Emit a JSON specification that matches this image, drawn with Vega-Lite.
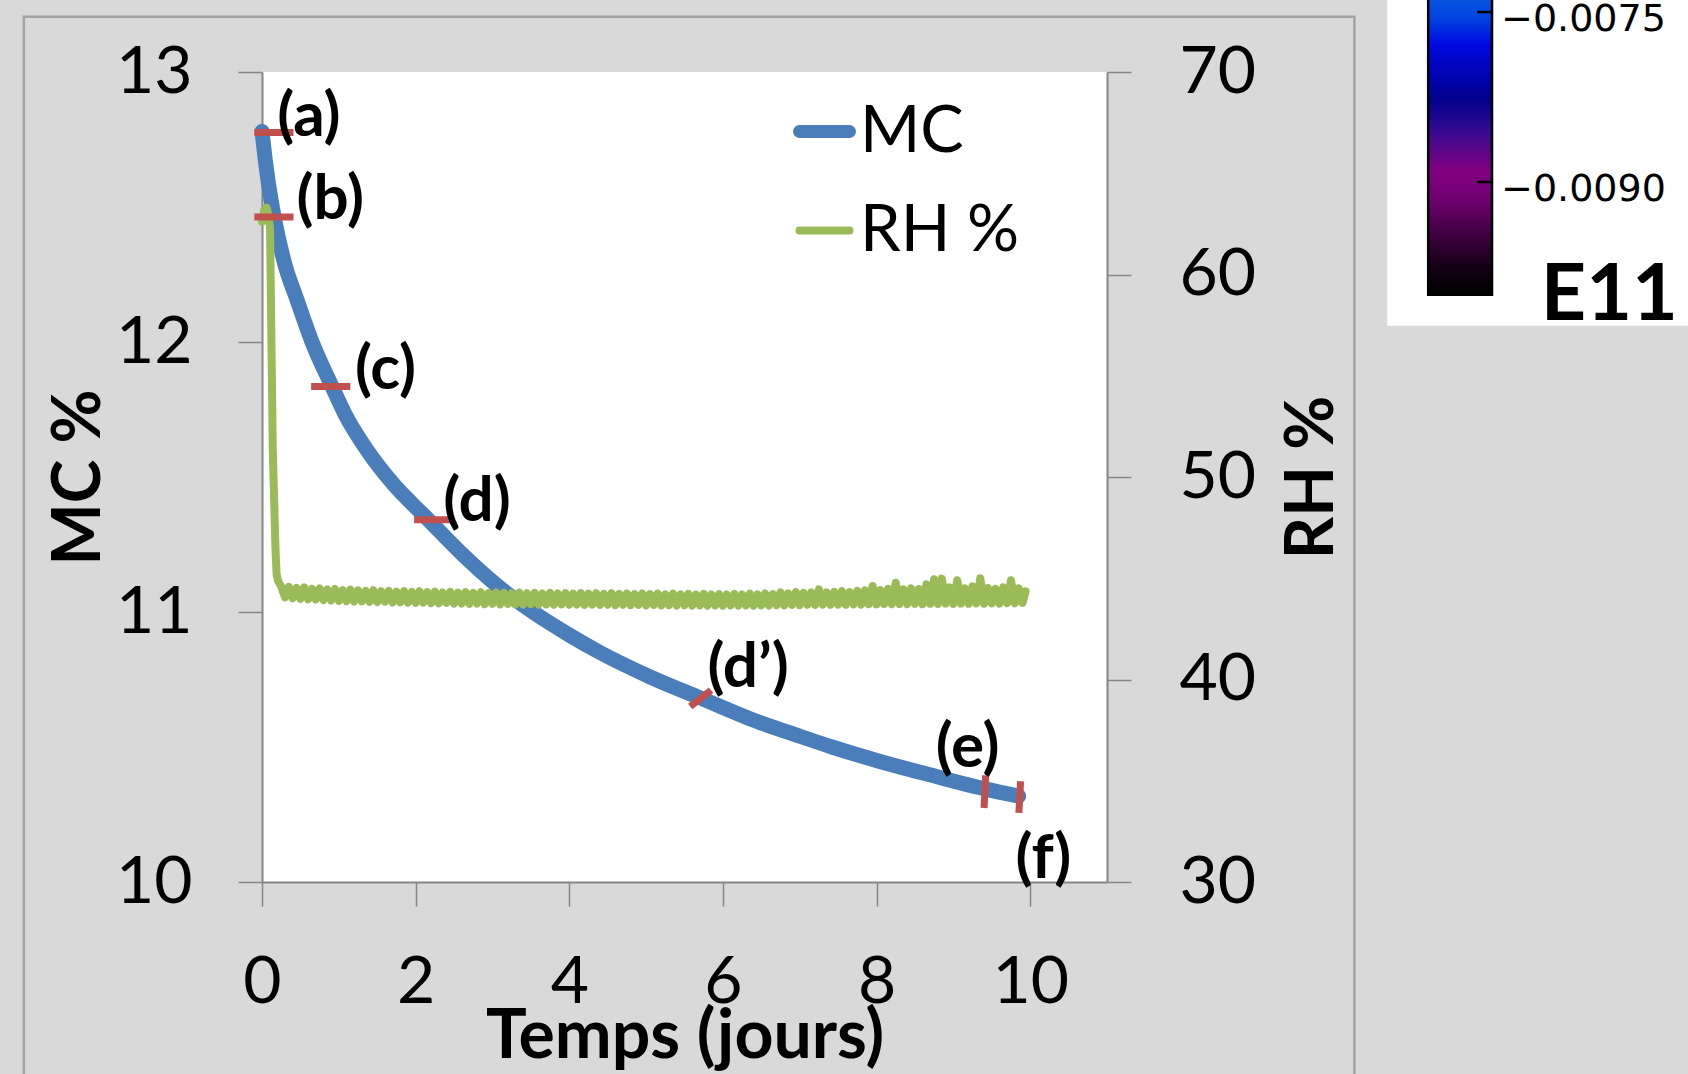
{
  "$schema": "https://vega.github.io/schema/vega-lite/v6.json",
  "width": 845,
  "height": 810,
  "autosize": {"type": "none"},
  "padding": {"left": 262, "top": 72, "right": 581, "bottom": 192},
  "background": "#d9d9d9",
  "config": {"view": {"fill": "white", "stroke": null}},
  "datasets": {
    "mc": [
      {"t": 0.0, "mc": 12.78}, {"t": 0.04, "mc": 12.68}, {"t": 0.08, "mc": 12.595}, {"t": 0.16, "mc": 12.46},
      {"t": 0.3, "mc": 12.285}, {"t": 0.455, "mc": 12.157}, {"t": 0.65, "mc": 12.001}, {"t": 0.91, "mc": 11.836},
      {"t": 1.1, "mc": 11.722}, {"t": 1.364, "mc": 11.601}, {"t": 1.7, "mc": 11.477}, {"t": 2.165, "mc": 11.342},
      {"t": 2.6, "mc": 11.216}, {"t": 3.074, "mc": 11.095}, {"t": 3.5, "mc": 11.005}, {"t": 4.0, "mc": 10.915},
      {"t": 4.4, "mc": 10.85}, {"t": 5.05, "mc": 10.76}, {"t": 5.72, "mc": 10.68}, {"t": 6.35, "mc": 10.605},
      {"t": 7.0, "mc": 10.54}, {"t": 7.42, "mc": 10.5}, {"t": 8.0, "mc": 10.45}, {"t": 8.72, "mc": 10.395},
      {"t": 9.41, "mc": 10.345}, {"t": 9.85, "mc": 10.318}
    ],
    "rh": [
      {"t": 0.0, "rh": 62.6}, {"t": 0.03, "rh": 63.2}, {"t": 0.06, "rh": 63.3}, {"t": 0.09, "rh": 62.8},
      {"t": 0.105, "rh": 62.2}, {"t": 0.14, "rh": 51.4}, {"t": 0.175, "rh": 46.5}, {"t": 0.19, "rh": 45.2},
      {"t": 0.21, "rh": 44.85}, {"t": 0.25, "rh": 44.6},
      {"t": 0.3, "rh": 44.05}, {"t": 0.35, "rh": 44.58}, {"t": 0.4, "rh": 44.02}, {"t": 0.45, "rh": 44.52},
      {"t": 0.5, "rh": 43.98}, {"t": 0.55, "rh": 44.55}, {"t": 0.6, "rh": 43.96}, {"t": 0.65, "rh": 44.48},
      {"t": 0.7, "rh": 43.95}, {"t": 0.75, "rh": 44.5}, {"t": 0.8, "rh": 43.92}, {"t": 0.85, "rh": 44.45},
      {"t": 0.9, "rh": 43.9}, {"t": 0.95, "rh": 44.47}, {"t": 1.0, "rh": 43.88}, {"t": 1.05, "rh": 44.42},
      {"t": 1.1, "rh": 43.87}, {"t": 1.15, "rh": 44.44}, {"t": 1.2, "rh": 43.85}, {"t": 1.25, "rh": 44.4},
      {"t": 1.3, "rh": 43.86}, {"t": 1.35, "rh": 44.38}, {"t": 1.4, "rh": 43.83}, {"t": 1.45, "rh": 44.41},
      {"t": 1.5, "rh": 43.82}, {"t": 1.55, "rh": 44.36}, {"t": 1.6, "rh": 43.84}, {"t": 1.65, "rh": 44.38},
      {"t": 1.7, "rh": 43.8}, {"t": 1.75, "rh": 44.34}, {"t": 1.8, "rh": 43.81}, {"t": 1.85, "rh": 44.37},
      {"t": 1.9, "rh": 43.79}, {"t": 1.95, "rh": 44.33}, {"t": 2.0, "rh": 43.78}, {"t": 2.05, "rh": 44.36},
      {"t": 2.1, "rh": 43.79}, {"t": 2.15, "rh": 44.32}, {"t": 2.2, "rh": 43.77}, {"t": 2.25, "rh": 44.34},
      {"t": 2.3, "rh": 43.76}, {"t": 2.35, "rh": 44.3}, {"t": 2.4, "rh": 43.78}, {"t": 2.45, "rh": 44.33},
      {"t": 2.5, "rh": 43.74}, {"t": 2.55, "rh": 44.29}, {"t": 2.6, "rh": 43.75}, {"t": 2.65, "rh": 44.32},
      {"t": 2.7, "rh": 43.73}, {"t": 2.75, "rh": 44.28}, {"t": 2.8, "rh": 43.75}, {"t": 2.85, "rh": 44.31},
      {"t": 2.9, "rh": 43.72}, {"t": 2.95, "rh": 44.27}, {"t": 3.0, "rh": 43.74}, {"t": 3.05, "rh": 44.3},
      {"t": 3.1, "rh": 43.71}, {"t": 3.15, "rh": 44.28}, {"t": 3.2, "rh": 43.73}, {"t": 3.25, "rh": 44.26},
      {"t": 3.3, "rh": 43.71}, {"t": 3.35, "rh": 44.29}, {"t": 3.4, "rh": 43.7}, {"t": 3.45, "rh": 44.26},
      {"t": 3.5, "rh": 43.72}, {"t": 3.55, "rh": 44.28}, {"t": 3.6, "rh": 43.7}, {"t": 3.65, "rh": 44.25},
      {"t": 3.7, "rh": 43.71}, {"t": 3.75, "rh": 44.28}, {"t": 3.8, "rh": 43.69}, {"t": 3.85, "rh": 44.25},
      {"t": 3.9, "rh": 43.71}, {"t": 3.95, "rh": 44.27}, {"t": 4.0, "rh": 43.69}, {"t": 4.05, "rh": 44.24},
      {"t": 4.1, "rh": 43.7}, {"t": 4.15, "rh": 44.27}, {"t": 4.2, "rh": 43.68}, {"t": 4.25, "rh": 44.24},
      {"t": 4.3, "rh": 43.7}, {"t": 4.35, "rh": 44.26}, {"t": 4.4, "rh": 43.68}, {"t": 4.45, "rh": 44.23},
      {"t": 4.5, "rh": 43.69}, {"t": 4.55, "rh": 44.26}, {"t": 4.6, "rh": 43.67}, {"t": 4.65, "rh": 44.23},
      {"t": 4.7, "rh": 43.69}, {"t": 4.75, "rh": 44.25}, {"t": 4.8, "rh": 43.67}, {"t": 4.85, "rh": 44.22},
      {"t": 4.9, "rh": 43.68}, {"t": 4.95, "rh": 44.25}, {"t": 5.0, "rh": 43.66}, {"t": 5.05, "rh": 44.22},
      {"t": 5.1, "rh": 43.68}, {"t": 5.15, "rh": 44.24}, {"t": 5.2, "rh": 43.66}, {"t": 5.25, "rh": 44.21},
      {"t": 5.3, "rh": 43.67}, {"t": 5.35, "rh": 44.24}, {"t": 5.4, "rh": 43.65}, {"t": 5.45, "rh": 44.21},
      {"t": 5.5, "rh": 43.67}, {"t": 5.55, "rh": 44.23}, {"t": 5.6, "rh": 43.65}, {"t": 5.65, "rh": 44.2},
      {"t": 5.7, "rh": 43.66}, {"t": 5.75, "rh": 44.23}, {"t": 5.8, "rh": 43.64}, {"t": 5.85, "rh": 44.2},
      {"t": 5.9, "rh": 43.66}, {"t": 5.95, "rh": 44.22}, {"t": 6.0, "rh": 43.64}, {"t": 6.05, "rh": 44.2},
      {"t": 6.1, "rh": 43.66}, {"t": 6.15, "rh": 44.23}, {"t": 6.2, "rh": 43.65}, {"t": 6.25, "rh": 44.2},
      {"t": 6.3, "rh": 43.66}, {"t": 6.35, "rh": 44.24}, {"t": 6.4, "rh": 43.64}, {"t": 6.45, "rh": 44.21},
      {"t": 6.5, "rh": 43.66}, {"t": 6.55, "rh": 44.25}, {"t": 6.6, "rh": 43.65}, {"t": 6.65, "rh": 44.22},
      {"t": 6.7, "rh": 43.67}, {"t": 6.75, "rh": 44.3}, {"t": 6.8, "rh": 43.66}, {"t": 6.85, "rh": 44.26},
      {"t": 6.9, "rh": 43.68}, {"t": 6.95, "rh": 44.32}, {"t": 7.0, "rh": 43.67}, {"t": 7.05, "rh": 44.28},
      {"t": 7.1, "rh": 43.69}, {"t": 7.15, "rh": 44.3}, {"t": 7.2, "rh": 43.68}, {"t": 7.25, "rh": 44.45},
      {"t": 7.3, "rh": 43.7}, {"t": 7.35, "rh": 44.3}, {"t": 7.4, "rh": 43.69}, {"t": 7.45, "rh": 44.33},
      {"t": 7.5, "rh": 43.7}, {"t": 7.55, "rh": 44.36}, {"t": 7.6, "rh": 43.69}, {"t": 7.65, "rh": 44.32},
      {"t": 7.7, "rh": 43.71}, {"t": 7.75, "rh": 44.38}, {"t": 7.8, "rh": 43.7}, {"t": 7.85, "rh": 44.4},
      {"t": 7.9, "rh": 43.72}, {"t": 7.95, "rh": 44.62}, {"t": 8.0, "rh": 43.71}, {"t": 8.05, "rh": 44.42},
      {"t": 8.1, "rh": 43.73}, {"t": 8.15, "rh": 44.48}, {"t": 8.2, "rh": 43.72}, {"t": 8.25, "rh": 44.78},
      {"t": 8.3, "rh": 43.73}, {"t": 8.35, "rh": 44.45}, {"t": 8.4, "rh": 43.72}, {"t": 8.45, "rh": 44.5},
      {"t": 8.5, "rh": 43.74}, {"t": 8.55, "rh": 44.47}, {"t": 8.6, "rh": 43.72}, {"t": 8.65, "rh": 44.7},
      {"t": 8.7, "rh": 43.74}, {"t": 8.75, "rh": 44.95}, {"t": 8.8, "rh": 43.73}, {"t": 8.85, "rh": 44.98},
      {"t": 8.9, "rh": 43.75}, {"t": 8.95, "rh": 44.55}, {"t": 9.0, "rh": 43.73}, {"t": 9.05, "rh": 44.9},
      {"t": 9.1, "rh": 43.75}, {"t": 9.15, "rh": 44.5}, {"t": 9.2, "rh": 43.74}, {"t": 9.25, "rh": 44.6},
      {"t": 9.3, "rh": 43.76}, {"t": 9.35, "rh": 45.0}, {"t": 9.4, "rh": 43.74}, {"t": 9.45, "rh": 44.52},
      {"t": 9.5, "rh": 43.76}, {"t": 9.55, "rh": 44.48}, {"t": 9.6, "rh": 43.75}, {"t": 9.65, "rh": 44.55},
      {"t": 9.7, "rh": 43.77}, {"t": 9.75, "rh": 44.9}, {"t": 9.8, "rh": 43.76}, {"t": 9.85, "rh": 44.5},
      {"t": 9.9, "rh": 43.78}, {"t": 9.94, "rh": 44.35}
    ],
    "ticks": [
      {"label": "(a)", "t1": -0.1, "t2": 0.41, "m1": 12.776, "m2": 12.776},
      {"label": "(b)", "t1": -0.1, "t2": 0.41, "m1": 12.463, "m2": 12.463},
      {"label": "(c)", "t1": 0.64, "t2": 1.15, "m1": 11.835, "m2": 11.835},
      {"label": "(d)", "t1": 1.98, "t2": 2.49, "m1": 11.342, "m2": 11.342},
      {"label": "(d’)", "t1": 5.574, "t2": 5.846, "m1": 10.65, "m2": 10.71},
      {"label": "(e)", "t1": 9.42, "t2": 9.4, "m1": 10.395, "m2": 10.274},
      {"label": "(f)", "t1": 9.875, "t2": 9.853, "m1": 10.373, "m2": 10.256}
    ],
    "labels": [
      {"label": "(a)", "t": 0.2, "mc": 12.834},
      {"label": "(b)", "t": 0.45, "mc": 12.527},
      {"label": "(c)", "t": 1.21, "mc": 11.897},
      {"label": "(d)", "t": 2.36, "mc": 11.409},
      {"label": "(d’)", "t": 5.8, "mc": 10.794},
      {"label": "(e)", "t": 8.77, "mc": 10.497},
      {"label": "(f)", "t": 9.81, "mc": 10.086}
    ],
    "cbticks": [
      {"e11": -0.0075, "text": "−0.0075"},
      {"e11": -0.009, "text": "−0.0090"}
    ]
  },
  "layer": [
    {
      "layer": [
        {
          "data": {"values": [{}]},
          "mark": {"type": "rect", "fillOpacity": 0, "stroke": "#a3a3a3", "strokeWidth": 2.5, "clip": false},
          "encoding": {
            "x": {"datum": -3.1, "type": "quantitative", "scale": {"domain": [0, 11], "nice": false, "zero": false}},
            "x2": {"datum": 14.22},
            "y": {"datum": 13.205, "type": "quantitative", "scale": {"domain": [10, 13], "nice": false, "zero": false}},
            "y2": {"datum": 9.0}
          }
        },
        {
          "data": {"name": "mc"},
          "mark": {"type": "line", "strokeWidth": 15, "strokeCap": "round", "strokeJoin": "round", "interpolate": "monotone", "clip": false},
          "encoding": {
            "x": {
              "field": "t", "type": "quantitative",
              "scale": {"domain": [0, 11], "nice": false, "zero": false},
              "axis": {
                "orient": "bottom", "values": [0, 2, 4, 6, 8, 10], "format": "d", "grid": false, "labelFlush": false,
                "domainColor": "#868686", "domainWidth": 2, "tickColor": "#868686", "tickWidth": 1.5, "tickSize": 24,
                "labelFont": "Lato", "labelFontSize": 66, "labelColor": "black", "labelPadding": 44,
                "title": "Temps (jours)", "titleFont": "Lato", "titleFontSize": 68, "titleFontWeight": "bold",
                "titleColor": "black", "titlePadding": -12
              }
            },
            "y": {
              "field": "mc", "type": "quantitative",
              "scale": {"domain": [10, 13], "nice": false, "zero": false},
              "axis": {
                "orient": "left", "values": [10, 11, 12, 13], "format": "d", "grid": false, "labelFlush": false,
                "domainColor": "#868686", "domainWidth": 2, "tickColor": "#868686", "tickWidth": 1.5, "tickSize": 24,
                "labelFont": "Lato", "labelFontSize": 66, "labelColor": "black", "labelPadding": 46,
                "title": "MC %", "titleFont": "Lato", "titleFontSize": 66, "titleFontWeight": "bold",
                "titleColor": "black", "titlePadding": 2
              }
            },
            "color": {
              "datum": "MC",
              "scale": {"domain": ["MC", "RH %"], "range": ["#4a7ebb", "#9bbb59"]},
              "legend": {
                "orient": "none", "legendX": 530, "legendY": 27, "title": null, "padding": 0,
                "symbolType": "stroke", "symbolSize": 2500, "symbolStrokeWidth": 8,
                "labelFont": "Lato", "labelFontSize": 65, "labelColor": "black", "labelOffset": 3,
                "rowPadding": 33, "labelLimit": 400,
                "encode": {"symbols": {"update": {"strokeWidth": {"signal": "datum.value === 'MC' ? 13 : 8"}, "strokeCap": {"value": "round"}}}}
              }
            }
          }
        }
      ]
    },
    {
      "layer": [
        {
          "data": {"name": "rh"},
          "mark": {"type": "line", "strokeWidth": 8, "strokeCap": "round", "strokeJoin": "round", "clip": false},
          "encoding": {
            "x": {"field": "t", "type": "quantitative", "scale": {"domain": [0, 11], "nice": false, "zero": false}},
            "y": {
              "field": "rh", "type": "quantitative",
              "scale": {"domain": [30, 70], "nice": false, "zero": false},
              "axis": {
                "orient": "right", "values": [30, 40, 50, 60, 70], "format": "d", "grid": false, "labelFlush": false,
                "domainColor": "#868686", "domainWidth": 2, "tickColor": "#868686", "tickWidth": 1.5, "tickSize": 24,
                "labelFont": "Lato", "labelFontSize": 66, "labelColor": "black", "labelPadding": 48,
                "title": "RH %", "titleFont": "Lato", "titleFontSize": 66, "titleFontWeight": "bold",
                "titleColor": "black", "titleAngle": 270, "titlePadding": 91
              }
            },
            "color": {
              "datum": "RH %",
              "scale": {"domain": ["MC", "RH %"], "range": ["#4a7ebb", "#9bbb59"]},
              "legend": {
                "orient": "none", "legendX": 530, "legendY": 27, "title": null, "padding": 0,
                "symbolType": "stroke", "symbolSize": 2500, "symbolStrokeWidth": 8,
                "labelFont": "Lato", "labelFontSize": 65, "labelColor": "black", "labelOffset": 3,
                "rowPadding": 33, "labelLimit": 400,
                "encode": {"symbols": {"update": {"strokeWidth": {"signal": "datum.value === 'MC' ? 13 : 8"}, "strokeCap": {"value": "round"}}}}
              }
            }
          }
        }
      ]
    },
    {
      "layer": [
        {
          "data": {"name": "ticks"},
          "mark": {"type": "rule", "color": "#c0504d", "strokeWidth": 7, "clip": false},
          "encoding": {
            "x": {"field": "t1", "type": "quantitative", "scale": {"domain": [0, 11], "nice": false, "zero": false}},
            "x2": {"field": "t2"},
            "y": {"field": "m1", "type": "quantitative", "scale": {"domain": [10, 13], "nice": false, "zero": false}, "axis": null},
            "y2": {"field": "m2"}
          }
        },
        {
          "data": {"name": "labels"},
          "mark": {"type": "text", "font": "Lato", "fontWeight": "bold", "fontSize": 62, "align": "left", "baseline": "middle", "color": "black", "clip": false},
          "encoding": {
            "x": {"field": "t", "type": "quantitative", "scale": {"domain": [0, 11], "nice": false, "zero": false}},
            "y": {"field": "mc", "type": "quantitative", "scale": {"domain": [10, 13], "nice": false, "zero": false}, "axis": null},
            "text": {"field": "label"}
          }
        }
      ]
    },
    {
      "layer": [
        {
          "data": {"values": [{}]},
          "mark": {"type": "rect", "fill": "white", "clip": false},
          "encoding": {
            "x": {"datum": 14.648, "type": "quantitative", "scale": {"domain": [0, 11], "nice": false, "zero": false}},
            "x2": {"datum": 18.8},
            "y": {"datum": -0.0068, "type": "quantitative", "scale": {"domain": [-0.0151765, -0.008029], "nice": false, "zero": false}, "axis": null},
            "y2": {"datum": -0.010268}
          }
        },
        {
          "data": {"values": [{}]},
          "mark": {
            "type": "rect", "stroke": "black", "strokeWidth": 2.5, "clip": false,
            "fill": {
              "gradient": "linear", "x1": 0, "y1": 0, "x2": 0, "y2": 1,
              "stops": [
                {"offset": 0, "color": "#0a5ae0"},
                {"offset": 0.082, "color": "#0040e0"},
                {"offset": 0.166, "color": "#0008e0"},
                {"offset": 0.349, "color": "#00008c"},
                {"offset": 0.459, "color": "#380a90"},
                {"offset": 0.583, "color": "#820082"},
                {"offset": 0.683, "color": "#700070"},
                {"offset": 0.793, "color": "#420042"},
                {"offset": 0.907, "color": "#150015"},
                {"offset": 1, "color": "#000000"}
              ]
            }
          },
          "encoding": {
            "x": {"datum": 15.181, "type": "quantitative", "scale": {"domain": [0, 11], "nice": false, "zero": false}},
            "x2": {"datum": 16.012},
            "y": {"datum": -0.00735, "type": "quantitative", "scale": {"domain": [-0.0151765, -0.008029], "nice": false, "zero": false}, "axis": null},
            "y2": {"datum": -0.0099944}
          }
        },
        {
          "data": {"name": "cbticks"},
          "mark": {"type": "rule", "color": "black", "strokeWidth": 2.5, "clip": false},
          "encoding": {
            "x": {"datum": 15.817, "type": "quantitative", "scale": {"domain": [0, 11], "nice": false, "zero": false}},
            "x2": {"datum": 16.012},
            "y": {"field": "e11", "type": "quantitative", "scale": {"domain": [-0.0151765, -0.008029], "nice": false, "zero": false}, "axis": null}
          }
        },
        {
          "data": {"name": "cbticks"},
          "mark": {"type": "text", "font": "DejaVu Sans", "fontSize": 38, "align": "left", "baseline": "middle", "dy": 8, "color": "black", "clip": false},
          "encoding": {
            "x": {"datum": 16.13, "type": "quantitative", "scale": {"domain": [0, 11], "nice": false, "zero": false}},
            "y": {"field": "e11", "type": "quantitative", "scale": {"domain": [-0.0151765, -0.008029], "nice": false, "zero": false}, "axis": null},
            "text": {"field": "text"}
          }
        },
        {
          "data": {"values": [{}]},
          "mark": {"type": "text", "text": "E11", "font": "Lato", "fontWeight": "bold", "fontSize": 79, "align": "center", "baseline": "middle", "color": "black", "clip": false},
          "encoding": {
            "x": {"datum": 17.539, "type": "quantitative", "scale": {"domain": [0, 11], "nice": false, "zero": false}},
            "y": {"datum": -0.010008, "type": "quantitative", "scale": {"domain": [-0.0151765, -0.008029], "nice": false, "zero": false}, "axis": null}
          }
        }
      ]
    }
  ],
  "resolve": {"scale": {"y": "independent"}}
}
